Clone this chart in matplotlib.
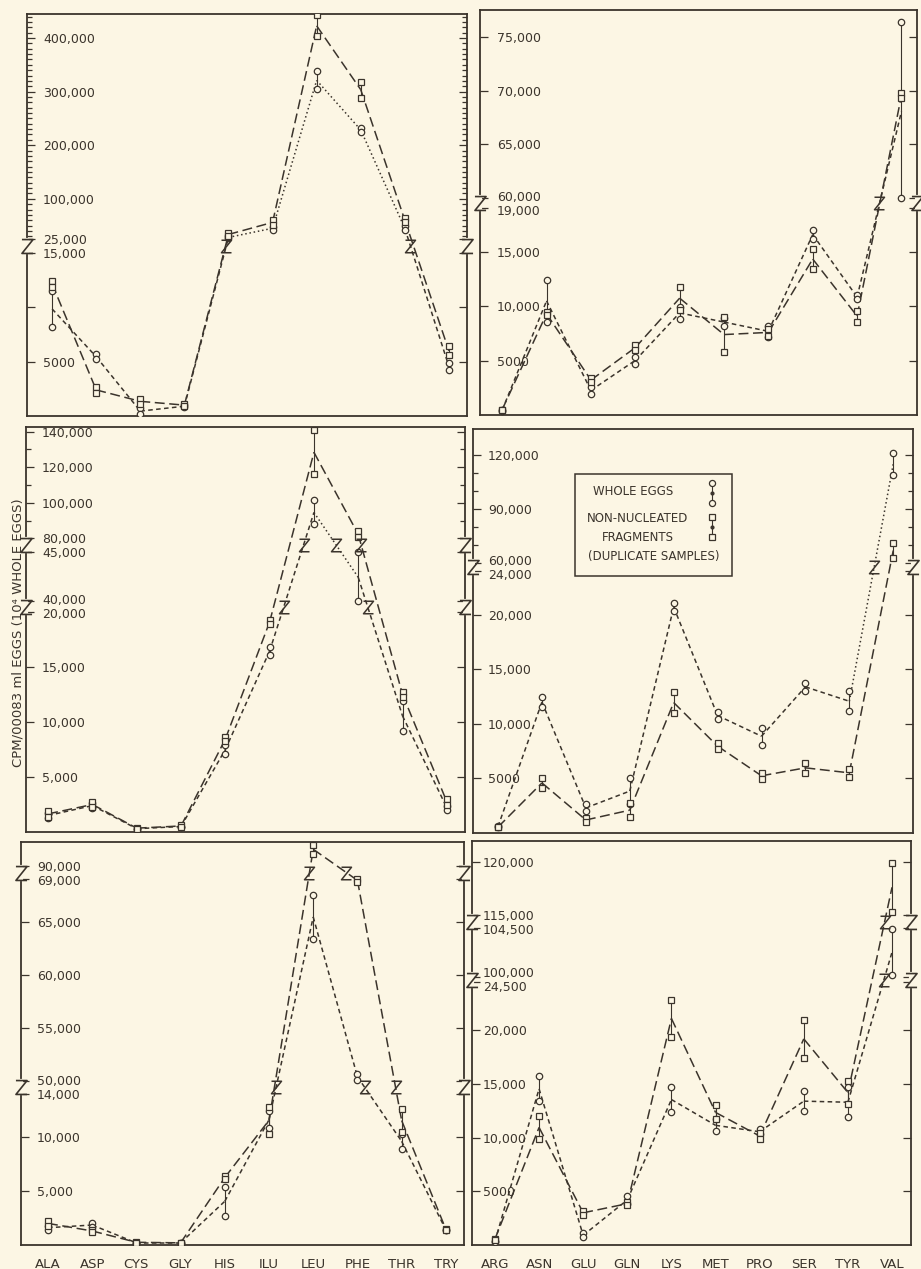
import matplotlib
matplotlib.use("Agg")
import matplotlib.pyplot as plt
import matplotlib.transforms as mtransforms
from matplotlib.path import Path
from matplotlib.patches import Rectangle
import numpy as np

INK = "#3b342c"
PAPER = "#fcf6e4"
W, H = 921, 1269

left_acids = ["ALA", "ASP", "CYS", "GLY", "HIS", "ILU", "LEU", "PHE", "THR", "TRY"]
right_acids = ["ARG", "ASN", "GLU", "GLN", "LYS", "MET", "PRO", "SER", "TYR", "VAL"]

# cpm, duplicate samples (a, b) for whole eggs and non-nucleated fragments
tl_whole_a = [11500, 5700, 700, 1000, 30000, 48000, 338000, 231600, 48400, 4900]
tl_whole_b = [8200, 5200, 200, 800, 26000, 42000, 304000, 225400, 41000, 4200]
tl_frag_a = [12400, 2700, 1600, 1100, 37000, 60000, 442000, 318500, 64000, 6400]
tl_frag_b = [11900, 2100, 1100, 900, 30000, 52000, 403500, 288700, 56000, 5600]

tr_whole_a = [500, 12450, 2570, 5330, 9930, 8900, 8200, 17000, 11000, 76350]
tr_whole_b = [400, 8550, 1960, 4720, 8860, 8200, 7200, 16200, 10700, 59800]
tr_frag_a = [500, 9470, 3400, 6400, 11800, 9000, 7900, 15300, 9600, 69800]
tr_frag_b = [500, 9160, 3030, 6000, 9700, 5800, 7300, 13400, 8600, 69300]

ml_whole_a = [1700, 2600, 300, 500, 7900, 16800, 101300, 45000, 11900, 2400]
ml_whole_b = [1300, 2200, 300, 500, 7100, 16100, 87800, 39800, 9200, 2000]
ml_frag_a = [1900, 2700, 400, 600, 8600, 19300, 140700, 84000, 12700, 3000]
ml_frag_b = [1400, 2300, 300, 500, 8300, 18900, 116100, 80500, 12300, 2500]

mr_whole_a = [600, 12450, 2570, 5000, 21070, 11040, 9600, 13730, 12960, 121000]
mr_whole_b = [500, 11500, 1950, 2600, 20300, 10430, 8070, 13000, 11130, 108900]
mr_frag_a = [500, 5000, 1350, 2700, 12870, 8170, 5480, 6390, 5840, 70800]
mr_frag_b = [500, 4100, 950, 1400, 10980, 7680, 4930, 5480, 5110, 62800]

bl_whole_a = [1800, 2000, 200, 200, 5400, 12400, 67500, 50700, 10300, 1400]
bl_whole_b = [1400, 1700, 200, 200, 2700, 10800, 63400, 50100, 8900, 1400]
bl_frag_a = [2200, 1400, 300, 200, 6400, 12800, 92000, 69100, 12550, 1500]
bl_frag_b = [1800, 1200, 200, 200, 6100, 10300, 91100, 68700, 10500, 1400]

br_whole_a = [400, 15700, 1100, 4600, 14700, 11700, 10800, 14300, 14700, 104400]
br_whole_b = [300, 13400, 700, 3800, 12400, 10600, 10300, 12500, 11900, 100200]
br_frag_a = [600, 12000, 3200, 4000, 22800, 13000, 10400, 21000, 15300, 119900]
br_frag_b = [500, 9900, 2800, 3700, 19400, 11700, 9900, 17400, 13100, 115300]

# y tick values and their printed labels
tl_ticks = [400000, 300000, 200000, 100000, 25000, 15000, 10000, 5000]
tl_labels = ["400,000", "300,000", "200,000", "100,000", "25,000", "15,000", "", "5000"]
tr_ticks = [75000, 70000, 65000, 60000, 19000, 15000, 10000, 5000]
tr_labels = ["75,000", "70,000", "65,000", "60,000", "19,000", "15,000", "10,000", "5000"]
ml_ticks = [140000, 120000, 100000, 80000, 45000, 40000, 20000, 15000, 10000, 5000]
ml_labels = ["140,000", "120,000", "100,000", "80,000", "45,000", "40,000",
             "20,000", "15,000", "10,000", "5,000"]
mr_ticks = [120000, 90000, 60000, 24000, 20000, 15000, 10000, 5000]
mr_labels = ["120,000", "90,000", "60,000", "24,000", "20,000", "15,000", "10,000", "5000"]
bl_ticks = [90000, 69000, 65000, 60000, 55000, 50000, 14000, 10000, 5000]
bl_labels = ["90,000", "69,000", "65,000", "60,000", "55,000", "50,000",
             "14,000", "10,000", "5,000"]
br_ticks = [120000, 115000, 104500, 100000, 24500, 20000, 15000, 10000, 5000]
br_labels = ["120,000", "115,000", "104,500", "100,000", "24,500",
             "20,000", "15,000", "10,000", "5000"]

panels = [
    dict(acids=left_acids, whole=(tl_whole_a, tl_whole_b), frag=(tl_frag_a, tl_frag_b),
         box=(27, 14, 467, 416), xlim=(-0.57, 9.41),
         segs=[(0, 0, 15000, 163), (25000, 177, 400000, 378)],
         ticks=tl_ticks, labels=tl_labels, minor=[v for v in range(30000, 450000, 10000) if v % 100000],
         pad=16, dotted=[4, 5, 6, 7], xlabels=False),
    dict(acids=right_acids, whole=(tr_whole_a, tr_whole_b), frag=(tr_frag_a, tr_frag_b),
         box=(480, 10, 917, 415), xlim=(-0.5, 9.35),
         segs=[(0, 0, 19000, 206.5), (60000, 216.7, 75000, 378.3)],
         ticks=tr_ticks, labels=tr_labels, minor=[],
         pad=17, dotted=[], xlabels=False),
    dict(acids=left_acids, whole=(ml_whole_a, ml_whole_b), frag=(ml_frag_a, ml_frag_b),
         box=(26, 427, 465, 832), xlim=(-0.5, 9.41),
         segs=[(0, 0, 20000, 220), (40000, 231, 45000, 280.3), (80000, 293.7, 140000, 400.3)],
         ticks=ml_ticks, labels=ml_labels, minor=[90000, 110000, 130000],
         pad=16, dotted=[6], xlabels=False),
    dict(acids=right_acids, whole=(mr_whole_a, mr_whole_b), frag=(mr_frag_a, mr_frag_b),
         box=(473, 429, 913, 832.5), xlim=(-0.57, 9.45),
         segs=[(0, 0, 24000, 261.5), (60000, 269.8, 120000, 377.5)],
         ticks=mr_ticks, labels=mr_labels, minor=[70000, 80000, 100000, 110000],
         pad=15, dotted=[8], xlabels=False),
    dict(acids=left_acids, whole=(bl_whole_a, bl_whole_b), frag=(bl_frag_a, bl_frag_b),
         box=(21, 842, 464, 1245), xlim=(-0.61, 9.41),
         segs=[(0, 0, 14000, 151.2), (50000, 164, 69000, 365.7), (90000, 379.3, 92000, 400.5)],
         ticks=bl_ticks, labels=bl_labels, minor=[],
         pad=16, dotted=[], xlabels=True),
    dict(acids=right_acids, whole=(br_whole_a, br_whole_b), frag=(br_frag_a, br_frag_b),
         box=(472, 841, 911, 1245), xlim=(-0.52, 9.43),
         segs=[(0, 0, 24500, 263), (100000, 268, 104500, 316.6), (115000, 330, 120000, 383.3)],
         ticks=br_ticks, labels=br_labels, minor=[],
         pad=11, dotted=[], xlabels=True),
]

Z_MARK = Path([(-0.4, 0.5), (0.4, 0.5), (-0.4, -0.5), (0.4, -0.5)],
              [Path.MOVETO, Path.LINETO, Path.LINETO, Path.LINETO])

SHORT = (0, (3.0, 2.2))
LONG = (0, (6.5, 3.0))
DOT = (0, (1.0, 1.8))


def extrap(x, xs, ys):
    x = np.asarray(x, dtype=float)
    y = np.interp(x, xs, ys)
    s0 = (ys[1] - ys[0]) / (xs[1] - xs[0])
    s1 = (ys[-1] - ys[-2]) / (xs[-1] - xs[-2])
    y = np.where(x < xs[0], ys[0] + (x - xs[0]) * s0, y)
    y = np.where(x > xs[-1], ys[-1] + (x - xs[-1]) * s1, y)
    return y


def broken_scale(segs):
    vals = np.array([v for s in segs for v in (s[0], s[2])], dtype=float)
    pos = np.array([p for s in segs for p in (s[1], s[3])], dtype=float)
    fwd = lambda v: extrap(v, vals, pos)
    inv = lambda p: extrap(p, pos, vals)
    breaks = [(segs[k][3] + segs[k + 1][1]) / 2 for k in range(len(segs) - 1)]
    return fwd, inv, breaks


fig = plt.figure(figsize=(W / 100, H / 100), dpi=100, facecolor=PAPER)

for p in panels:
    x0, y0, x1, y1 = p["box"]
    height = y1 - y0
    ax = fig.add_axes([x0 / W, 1 - y1 / H, (x1 - x0) / W, height / H])
    ax.set_facecolor(PAPER)
    fwd, inv, breaks = broken_scale(p["segs"])
    ax.set_yscale("function", functions=(fwd, inv))
    ax.set_xlim(*p["xlim"])
    ax.set_ylim(0, float(inv(height)))
    for sp in ax.spines.values():
        sp.set_color(INK)
        sp.set_linewidth(1.3)

    x = np.arange(len(p["acids"]))
    zs = []
    for kind in ("whole", "frag"):
        a = np.array(p[kind][0], dtype=float)
        b = np.array(p[kind][1], dtype=float)
        mean = (a + b) / 2
        base = SHORT if kind == "whole" else LONG
        for k in range(len(x) - 1):
            ls = DOT if (kind == "whole" and k in p["dotted"]) else base
            ax.plot(x[k:k + 2], mean[k:k + 2], ls=ls, color=INK, lw=1.1, zorder=2)
            pa, pb = fwd(mean[k]), fwd(mean[k + 1])
            for bp in breaks:
                if min(pa, pb) < bp < max(pa, pb):
                    xc = k + (bp - pa) / (pb - pa)
                    if all(abs(xc - zx) > 0.4 or bp != zb for zx, zb in zs):
                        zs.append((xc, bp))
        ax.vlines(x, a, b, color=INK, lw=0.8, zorder=3)
        mk = "o" if kind == "whole" else "s"
        ms = 4.6 if kind == "whole" else 4.2
        for vals in (a, b):
            ax.plot(x, vals, ls="none", marker=mk, ms=ms, mfc=PAPER, mec=INK, mew=0.9, zorder=4)

    for zx, zb in zs:
        ax.plot([zx], [float(inv(zb))], marker=Z_MARK, ms=9, mfc="none", mec=INK, mew=1.1,
                ls="none", zorder=5)

    # break marks on both spines
    ytr = ax.get_yaxis_transform()
    for bp in breaks:
        for sx in (0, 1):
            ax.plot([sx, sx], [float(inv(bp - 6)), float(inv(bp + 6))], color=PAPER, lw=3,
                    transform=ytr, clip_on=False, zorder=6)
            ax.plot([sx], [float(inv(bp))], marker=Z_MARK, ms=10, mfc="none", mec=INK,
                    mew=1.2, transform=ytr, clip_on=False, zorder=7)

    ax.set_yticks(p["ticks"])
    ax.set_yticks(p["minor"], minor=True)
    ax.tick_params(axis="y", which="both", direction="in", left=True, right=True,
                   labelleft=False, color=INK, width=0.9)
    ax.tick_params(axis="y", which="major", length=6)
    ax.tick_params(axis="y", which="minor", length=3.5)

    # labels written inside the frame, nudged apart at the breaks
    seg_tops = [s[2] for s in p["segs"][:-1]]
    seg_bots = [s[0] for s in p["segs"][1:]]
    for val, lab in zip(p["ticks"], p["labels"]):
        dy = 0.0
        for k in range(len(seg_tops)):
            gap = p["segs"][k + 1][1] - p["segs"][k][3]
            shift = max(0.0, (14 - gap) / 2) * 0.72
            if val == seg_tops[k]:
                dy = -shift
            elif val == seg_bots[k]:
                dy = shift
        tr = mtransforms.offset_copy(ytr, fig=fig, x=p["pad"] * 0.72, y=dy, units="points")
        ax.text(0, val, lab, transform=tr, ha="left", va="center_baseline",
                fontsize=9, color=INK)

    ax.set_xticks(x)
    if p["xlabels"]:
        ax.set_xticklabels(p["acids"], fontsize=9.5, color=INK)
        ax.tick_params(axis="x", length=0, pad=9)
    else:
        ax.set_xticklabels([])
        ax.tick_params(axis="x", length=0)

    if p is panels[3]:
        ax.add_patch(Rectangle((0.231, 0.635), 0.358, 0.253, transform=ax.transAxes,
                               fill=False, ec=INK, lw=1.1, zorder=8))
        ax.text(0.365, 0.844, "WHOLE EGGS", transform=ax.transAxes, ha="center",
                va="center", fontsize=8.5, color=INK)
        ax.text(0.375, 0.779, "NON-NUCLEATED", transform=ax.transAxes, ha="center",
                va="center", fontsize=8.5, color=INK)
        ax.text(0.375, 0.732, "FRAGMENTS", transform=ax.transAxes, ha="center",
                va="center", fontsize=8.5, color=INK)
        ax.text(0.41, 0.685, "(DUPLICATE SAMPLES)", transform=ax.transAxes, ha="center",
                va="center", fontsize=8.5, color=INK)
        for (ya, yb), mk in (((0.866, 0.816), "o"), ((0.782, 0.732), "s")):
            ax.plot([0.543, 0.543], [ya, yb], color=INK, lw=0.8, transform=ax.transAxes)
            ax.plot([0.543, 0.543], [ya, yb], ls="none", marker=mk, ms=4.4, mfc=PAPER,
                    mec=INK, mew=0.9, transform=ax.transAxes)
            ax.plot([0.543], [(ya + yb) / 2], ls="none", marker="o", ms=2, color=INK,
                    transform=ax.transAxes)

fig.text(18 / W, 1 - 633 / H, "CPM/00083 ml EGGS (10⁴ WHOLE EGGS)", rotation=90,
         ha="center", va="center", fontsize=9.5, color=INK)

fig.savefig("out.png", dpi=100, facecolor=PAPER)
